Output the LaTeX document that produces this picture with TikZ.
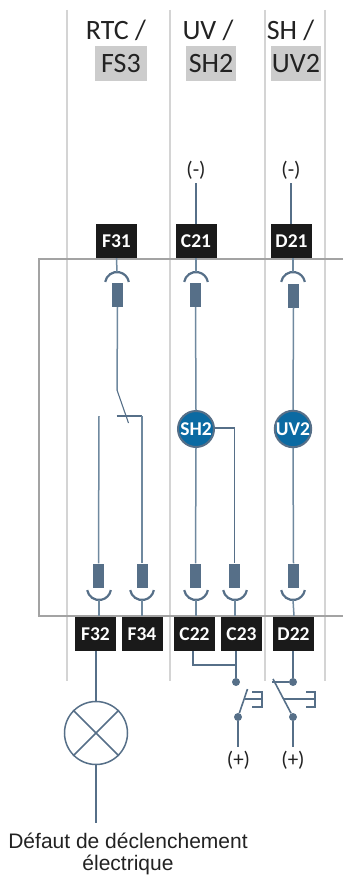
\documentclass[tikz,border=0pt]{standalone}
\usepackage{fontspec}
\setmainfont{Carlito}
\newfontfamily\arialf{Liberation Sans}
\definecolor{wirec}{HTML}{6F899F}
\definecolor{plugc}{HTML}{566F88}
\definecolor{guidec}{HTML}{D4D4D4}
\definecolor{framec}{HTML}{A3A3A3}
\definecolor{termc}{HTML}{1A1A1A}
\definecolor{greyc}{HTML}{CCCCCC}
\definecolor{coilc}{HTML}{0B6AA2}
\definecolor{textc}{HTML}{222222}
\tikzset{
  guide/.style={draw=guidec,line width=1.4pt},
  frameline/.style={draw=framec,line width=2pt},
  wire/.style={draw=wirec,line width=1.5pt},
  thinwire/.style={draw=plugc,line width=1.1pt},
  swline/.style={draw=plugc,line width=1.6pt},
  cupline/.style={draw=plugc,line width=2.2pt},
  term/.style={fill=termc,text=white,minimum width=41pt,minimum height=34pt,inner sep=0pt,
    font=\fontsize{19.5}{22}\selectfont\bfseries},
  plugbox/.style={fill=plugc,minimum width=11pt,minimum height=24pt,inner sep=0pt},
  coil/.style={circle,fill=coilc,draw=plugc,line width=2pt,minimum size=36pt,inner sep=0pt,text=white,
    font=\fontsize{19.5}{22}\selectfont\bfseries},
  head/.style={text=textc,inner sep=0pt,font=\fontsize{28}{30}\selectfont},
  greybox/.style={fill=greyc,text=textc,minimum height=35pt,inner sep=0pt,font=\fontsize{28}{30}\selectfont},
  pol/.style={text=textc,inner sep=0pt,font=\fontsize{21}{23}\selectfont},
  dotn/.style={circle,fill=plugc,minimum size=8pt,inner sep=0pt},
  lamp/.style={circle,draw=plugc,line width=1.5pt,minimum size=63pt,inner sep=0pt},
  caption/.style={text=textc,inner sep=0pt,font=\arialf\fontsize{21}{24}\selectfont},
}
\newcommand{\topcup}[2]{\coordinate (#1) at (#2,272);
  \draw[cupline] (#2,284) ++(170:12pt) arc[start angle=170,end angle=10,radius=12pt];}
\newcommand{\botcup}[2]{\coordinate (#1) at (#2,600);
  \draw[cupline] (#2,588) ++(190:12pt) arc[start angle=190,end angle=350,radius=12pt];}
\begin{document}
\begin{tikzpicture}[x=1pt,y=-1pt]
\useasboundingbox (0,0) rectangle (343,875);
% guides
\foreach \gx in {67,170,265,325} \draw[guide] (\gx,10) -- (\gx,681);
% frame
\draw[frameline] (343,259) -- (38.5,259) -- (38.5,616) -- (343,616);
% headers
\node[head] (h1) at (116,30) {RTC /};
\node[head] (h2) at (208,30) {UV /};
\node[head] (h3) at (290.5,30) {SH /};
\node[greybox,minimum width=52pt] (g1) at (121,63.5) {FS3};
\node[greybox,minimum width=50pt] (g2) at (211,63.5) {SH2};
\node[greybox,minimum width=50pt] (g3) at (296,63.5) {UV2};
% polarity
\node[pol] (mc) at (196,170) {(-)};
\node[pol] (md) at (291,170) {(-)};
\node[pol] (pc) at (238.5,760) {(+)};
\node[pol] (pd) at (293,760) {(+)};
% terminals
\node[term] (F31) at (116.5,241) {F31};
\node[term] (C21) at (196,241) {C21};
\node[term] (D21) at (291.5,241) {D21};
\node[term] (F32) at (95.5,634) {F32};
\node[term] (F34) at (142,634) {F34};
\node[term] (C22) at (194.5,634) {C22};
\node[term] (C23) at (241.5,634) {C23};
\node[term] (D22) at (293.5,634) {D22};
% top connectors
\topcup{ct1}{117}\topcup{ct2}{196}\topcup{ct3}{293}
\node[plugbox] (pt1) at (117.5,295) {};
\node[plugbox] (pt2) at (195.5,295) {};
\node[plugbox] (pt3) at (293.5,295.5) {};
% bottom connectors
\botcup{cb1}{99}\botcup{cb2}{142}\botcup{cb3}{196}\botcup{cb4}{235}\botcup{cb5}{293}
\node[plugbox] (pb1) at (98.5,575.5) {};
\node[plugbox] (pb2) at (142,575.5) {};
\node[plugbox] (pb3) at (195.5,575.5) {};
\node[plugbox] (pb4) at (234.5,575.5) {};
\node[plugbox] (pb5) at (293.5,575.5) {};
% coils
\node[coil] (SH2) at (196,429) {SH2};
\node[coil] (UV2) at (293,429) {UV2};
% polarity wires
\draw[thinwire] (196,183) -- (C21.north);
\draw[thinwire] (291,183) -- (291,224);
% terminal to cup stubs
\draw[wire] (F31.south) -- (ct1);
\draw[wire] (196,258) -- (ct2);
\draw[wire] (293,258) -- (ct3);
\draw[wire] (cb1) -- (99,616);
\draw[wire] (cb2) -- (142,616);
\draw[wire] (cb3) -- (196,616);
\draw[wire] (cb4) -- (235,616);
\draw[wire] (cb5) -- (294,616);
% internal wires
\draw[wire] (pt2.south) -- (SH2.north);
\draw[wire] (pt3.south) -- (UV2.north);
\draw[wire] (SH2.south) -- (pb3.north);
\draw[wire] (UV2.south) -- (pb5.north);
\draw[thinwire] (SH2.east) |- (234.5,428) -- (pb4.north);
% FS3 contact
\coordinate (swa) at (117,390);
\coordinate (swb) at (128.5,423);
\coordinate (swc) at (116.5,416);
\coordinate (swd) at (142,416);
\coordinate (swe) at (99,416);
\draw[wire] (pt1.south) -- (swa);
\draw[thinwire] (swa) -- (swb);
\draw[thinwire] (swc) -- (swd);
\draw[wire] (swd) -- (pb2.north);
\draw[wire] (swe) -- (pb1.north);
% external wiring
\coordinate (cjn) at (236,665);
\coordinate (cjl) at (193,665);
\node[dotn] (d1) at (236,682) {};
\node[dotn] (d2) at (238,717) {};
\node[dotn] (d3) at (293,682) {};
\node[dotn] (d4) at (293,717) {};
\draw[swline] (193,651) -- (cjl) -- (cjn);
\draw[swline] (236,651) -- (d1);
\draw[swline] (d2) -- (238,747);
\draw[swline] (293,651) -- (d3);
\draw[swline] (d4) -- (293,747);
% switch 1
\coordinate (b1) at (247.5,689);
\draw[swline] (d2) -- (b1);
\draw[swline] (245,699) -- (262,699);
\draw[swline] (252,692) -- (262,692) -- (262,707) -- (252,707);
% switch 2
\coordinate (b2) at (273,679);
\draw[swline] (d3) -- (272,682);
\draw[swline] (d4) -- (b2);
\draw[swline] (284,699) -- (315,699);
\draw[swline] (306,692) -- (315,692) -- (315,707) -- (306,707);
% lamp
\node[lamp] (L) at (96,733) {};
\draw[swline] (96,651) -- (L.north);
\draw[swline] (L.south) -- (96,823);
\draw[line width=1.5pt,draw=plugc] (L.north west) -- (L.south east);
\draw[line width=1.5pt,draw=plugc] (L.north east) -- (L.south west);
% caption
\node[caption] (t1) at (128,841) {Défaut de déclenchement};
\node[caption] (t2) at (128,865) {électrique};
\end{tikzpicture}
\end{document}
